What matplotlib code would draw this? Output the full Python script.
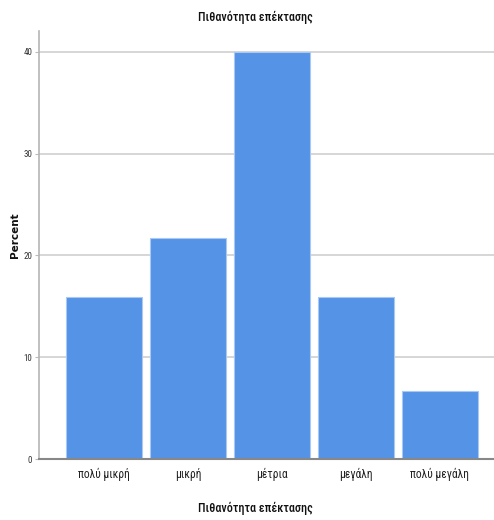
import matplotlib
matplotlib.use("Agg")
import matplotlib.pyplot as plt
from matplotlib import font_manager
from matplotlib.font_manager import FontProperties

categories = ["πολύ μικρή", "μικρή", "μέτρια", "μεγάλη", "πολύ μεγάλη"]
percent = [15.9, 21.7, 40.0, 15.9, 6.7]
yticks = [0, 10, 20, 30, 40]


def pick_condensed(weight=400):
    prefs = ["Roboto Condensed", "Open Sans Condensed", "Fira Sans Condensed",
             "Encode Sans Condensed", "IBM Plex Sans Condensed", "Roboto", "Open Sans"]
    fl = font_manager.fontManager.ttflist
    for p in prefs:
        cands = [f for f in fl if f.name == p and f.style == "normal"
                 and (f.stretch in ("condensed", "semi-condensed") or "Condensed" in p)]
        if cands:
            cands.sort(key=lambda f: abs(int(f.weight) - weight) if str(f.weight).isdigit() else 999)
            return FontProperties(fname=cands[0].fname)
    return FontProperties(family="Liberation Sans")


cond = pick_condensed(400)
cond_title = pick_condensed(500)

fig = plt.figure(figsize=(4.94, 5.20), dpi=100)
ax = fig.add_axes([0.079, 0.1173, 0.921, 0.8231])

x = list(range(len(categories)))
ax.bar(x, percent, width=0.905, color="#5593e6", edgecolor="#a9c8f2", linewidth=0.8, zorder=3)

ax.set_xlim(-0.774, 4.643)
ax.set_ylim(0, 42.06)
ax.set_yticks(yticks)
ax.set_yticklabels([str(v) for v in yticks], color="#333333")
for t in ax.get_yticklabels():
    t.set_fontproperties(cond)
    t.set_fontsize(6.5)
ax.set_xticks(x)
ax.set_xticklabels(categories, color="#222222")
for t in ax.get_xticklabels():
    t.set_fontproperties(cond)
    t.set_fontsize(8.3)
ax.tick_params(axis="x", length=0, pad=6.5)
ax.tick_params(axis="y", length=3, color="#bbbbbb", pad=2)

ax.grid(axis="y", color="#d0d0d0", linewidth=1.2, zorder=0)
for s in ["top", "right"]:
    ax.spines[s].set_visible(False)
ax.spines["left"].set_color("#b5b5b5")
ax.spines["left"].set_linewidth(1.2)
ax.spines["bottom"].set_color("#888888")
ax.spines["bottom"].set_linewidth(1.5)
ax.spines["bottom"].set_zorder(4)

fig.text(255 / 494, 1 - 17 / 520, "Πιθανότητα επέκτασης", ha="center", va="center",
         fontproperties=cond_title, fontsize=8.7, color="#111111")
fig.text(255 / 494, 1 - 508 / 520, "Πιθανότητα επέκτασης", ha="center", va="center",
         fontproperties=cond_title, fontsize=8.7, color="#111111")
fig.text(15 / 494, 1 - 235 / 520, "Percent", rotation=90, ha="center", va="center",
         fontsize=7.5, fontweight="bold", family="DejaVu Sans", color="#111111")

fig.savefig("out.png", dpi=100)
